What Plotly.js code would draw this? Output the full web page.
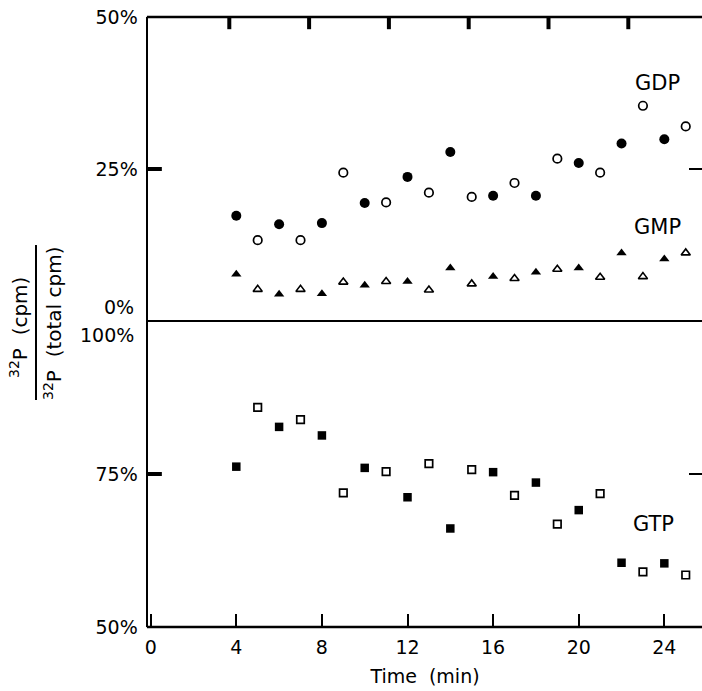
<!DOCTYPE html>
<html>
<head>
<meta charset="utf-8">
<script src="https://cdn.plot.ly/plotly-3.0.1.min.js"></script>
<style>html,body{margin:0;padding:0;background:#fff;}#chart{width:702px;height:691px;}</style>
</head>
<body>
<div id="chart"></div>
<script>
// Time points (min)
const evenTimes = [4, 6, 8, 10, 12, 14, 16, 18, 20, 22, 24];
const oddTimes  = [5, 7, 9, 11, 13, 15, 17, 19, 21, 23, 25];

// GDP (% of total cpm) – top panel
const gdpFilled = [17.3, 15.9, 16.1, 19.4, 23.7, 27.8, 20.6, 20.6, 26.0, 29.2, 29.9];
const gdpOpen   = [13.3, 13.3, 24.4, 19.5, 21.1, 20.4, 22.7, 26.7, 24.4, 35.4, 32.0];

// GMP (% of total cpm) – top panel
const gmpFilled = [7.7, 4.4, 4.5, 5.9, 6.5, 8.7, 7.3, 8.0, 8.7, 11.2, 10.2];
const gmpOpen   = [5.2, 5.2, 6.4, 6.5, 5.1, 6.1, 7.0, 8.5, 7.2, 7.3, 11.2];

// GTP (% of total cpm) – bottom panel
const gtpFilled = [76.2, 82.7, 81.3, 76.0, 71.2, 66.1, 75.3, 73.6, 69.1, 60.5, 60.4];
const gtpOpen   = [85.9, 83.9, 71.9, 75.4, 76.7, 75.7, 71.5, 66.8, 71.8, 59.0, 58.5];

// Axis ticks
const xTicks = [0, 4, 8, 12, 16, 20, 24];
const xTickText = ['0', '4', '8', '12', '16', '20', '24'];
const topXTicks = [4, 8, 12, 16, 20, 24];   // ticks printed on the top frame
const topYTicks = [25, 50];
const topYText = ['25%', '50%'];
const botYTicks = [50, 75];
const botYText = ['50%', '75%'];

const FONT = 'DejaVu Sans, Liberation Sans, Arial, sans-serif';
const BLACK = '#000';
const TICK = 'black';

function tr(x, y, yaxis, symbol, size, lw) {
  return {
    x: x, y: y, xaxis: 'x', yaxis: yaxis, type: 'scatter', mode: 'markers',
    marker: {symbol: symbol, size: size, color: BLACK, line: {color: BLACK, width: lw}},
    hoverinfo: 'skip', showlegend: false
  };
}

const data = [
  tr(evenTimes, gdpFilled, 'y2', 'circle', 10, 0),
  tr(oddTimes, gdpOpen, 'y2', 'circle-open', 8.5, 1.7),
  tr(evenTimes, gmpFilled, 'y2', 'triangle-up', 9, 0),
  tr(oddTimes, gmpOpen, 'y2', 'triangle-up-open', 8, 1.6),
  tr(evenTimes, gtpFilled, 'y', 'square', 8.5, 0),
  tr(oddTimes, gtpOpen, 'y', 'square-open', 7.5, 1.7)
];

const split = 306 / 610;
const plotW = 554, plotH = 610;
const axBase = {showgrid: false, zeroline: false, fixedrange: true, color: BLACK,
  linecolor: BLACK, tickcolor: BLACK, tickfont: {family: FONT, size: 19, color: BLACK}};

// Frame / tick shapes (not data)
const yTop25 = 0.5 * (1 - split) + split;   // 25% level of the upper panel (paper)
const yBot75 = 0.5 * split;                 // 75% level of the lower panel (paper)
const shapes = [
  // fraction bar of the y-axis label
  {type: 'line', xref: 'paper', yref: 'paper', x0: -0.2022, x1: -0.2022, y0: 0.3721, y1: 0.6262, line: {color: BLACK, width: 2}},
  // frame lines: top, middle divider, bottom
  {type: 'line', xref: 'paper', yref: 'paper', x0: -0.002, x1: 1, y0: 1, y1: 1, line: {color: BLACK, width: 2.5}},
  {type: 'line', xref: 'paper', yref: 'paper', x0: 0, x1: 1, y0: split, y1: split, line: {color: BLACK, width: 2.2}},
  {type: 'line', xref: 'paper', yref: 'paper', x0: -0.002, x1: 1, y0: 0, y1: 0, line: {color: BLACK, width: 2.5}},
  // inward ticks on the left axis
  {type: 'line', xref: 'paper', yref: 'paper', x0: 0, x1: 0.025, y0: yTop25, y1: yTop25, line: {color: TICK, width: 4}},
  {type: 'line', xref: 'paper', yref: 'paper', x0: 0, x1: 0.025, y0: yBot75, y1: yBot75, line: {color: TICK, width: 4}}
];
// top-frame ticks (printed with a slightly narrower spacing than the bottom axis)
topXTicks.forEach(function (v) {
  const px = (1.5 + v * 19.95) / plotW;
  shapes.push({type: 'line', xref: 'paper', yref: 'paper', x0: px, x1: px, y0: 1, y1: 0.98, line: {color: TICK, width: 4}});
});

const layout = {
  width: 702, height: 691,
  margin: {l: 148, r: 0, t: 17, b: 64, pad: 0},
  paper_bgcolor: '#fff', plot_bgcolor: 'rgba(0,0,0,0)',
  showlegend: false,
  font: {family: FONT, size: 19, color: BLACK},
  xaxis: Object.assign({}, axBase, {
    domain: [0, 1], anchor: 'y', range: [-0.126, 25.76],
    tickvals: xTicks, ticktext: xTickText,
    ticks: 'inside', ticklen: 13, tickwidth: 2,
    showline: false, ticklabelstandoff: 7,
    title: {text: 'Time  (min)', font: {family: FONT, size: 19, color: BLACK}, standoff: 12}
  }),
  yaxis: Object.assign({}, axBase, {
    domain: [0, split], anchor: 'x', range: [50, 100],
    tickvals: botYTicks, ticktext: botYText,
    ticks: 'inside', ticklen: 13, tickwidth: 2,
    showline: true, linewidth: 2.5, mirror: 'ticks', ticklabelstandoff: 4
  }),
  yaxis2: Object.assign({}, axBase, {
    domain: [split, 1], anchor: 'x', range: [0, 50],
    tickvals: topYTicks, ticktext: topYText,
    ticks: 'inside', ticklen: 13, tickwidth: 2,
    showline: true, linewidth: 2.5, mirror: 'ticks', ticklabelstandoff: 4
  }),
  annotations: [
    {text: 'GDP', xref: 'x', yref: 'y2', x: 23.66, y: 39.1, showarrow: false, xanchor: 'center', yanchor: 'middle', font: {family: FONT, size: 21, color: BLACK}},
    {text: 'GMP', xref: 'x', yref: 'y2', x: 23.66, y: 15.5, showarrow: false, xanchor: 'center', yanchor: 'middle', font: {family: FONT, size: 21, color: BLACK}},
    {text: 'GTP', xref: 'x', yref: 'y', x: 23.49, y: 66.8, showarrow: false, xanchor: 'center', yanchor: 'middle', font: {family: FONT, size: 21, color: BLACK}},
    {text: '0%', xref: 'paper', yref: 'paper', x: -0.0217, y: 0.5251, showarrow: false, xanchor: 'right', yanchor: 'middle', font: {family: FONT, size: 19, color: BLACK}},
    {text: '100%', xref: 'paper', yref: 'paper', x: -0.0217, y: 0.4787, showarrow: false, xanchor: 'right', yanchor: 'middle', font: {family: FONT, size: 19, color: BLACK}},
    {text: '<sup>32</sup>P  (cpm)', xref: 'paper', yref: 'paper', x: -0.2329, y: 0.4918, textangle: -90, showarrow: false, xanchor: 'center', yanchor: 'middle', font: {family: FONT, size: 20, color: BLACK}},
    {text: '<sup>32</sup>P  (total cpm)', xref: 'paper', yref: 'paper', x: -0.1715, y: 0.4984, textangle: -90, showarrow: false, xanchor: 'center', yanchor: 'middle', font: {family: FONT, size: 20, color: BLACK}}
  ],
  shapes: shapes
};

Plotly.newPlot('chart', data, layout, {staticPlot: true, displayModeBar: false});
</script>
</body>
</html>
